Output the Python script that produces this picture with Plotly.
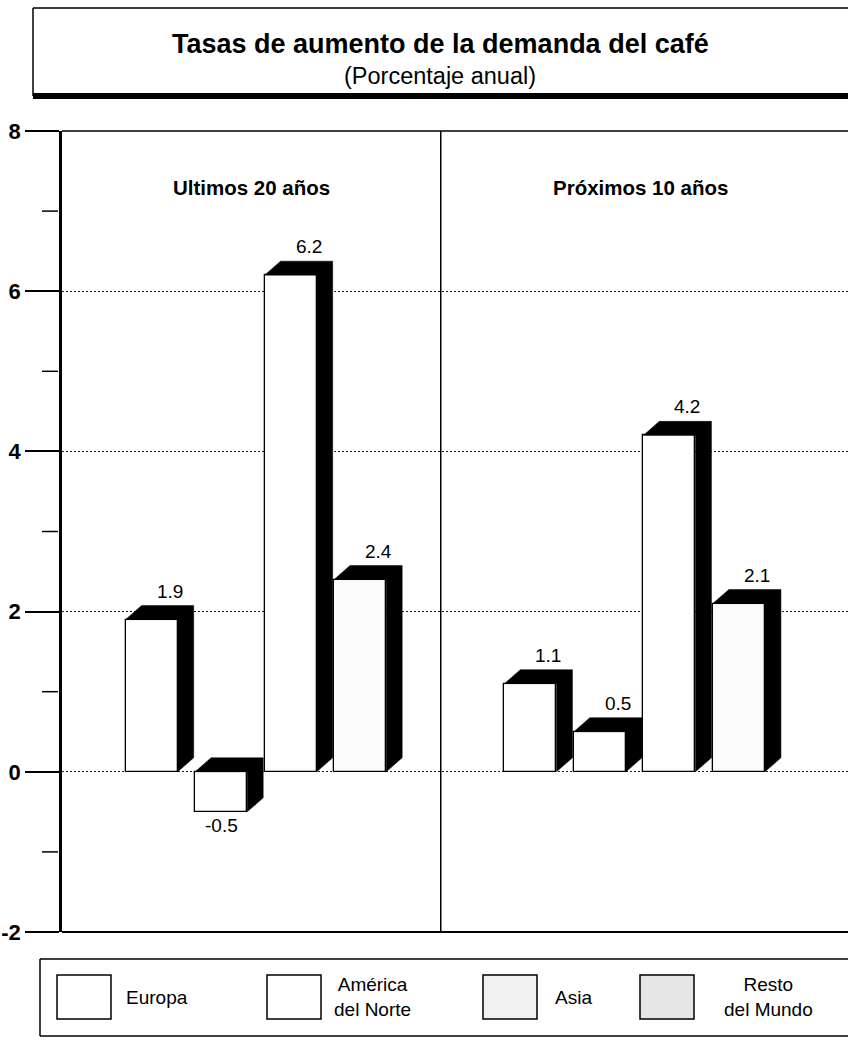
import plotly.graph_objects as go

# ---- data -------------------------------------------------------------
periods = ["Ultimos 20 años", "Próximos 10 años"]
regions = ["Europa", "América del Norte", "Asia", "Resto del Mundo"]
legend_text = ["Europa", "América<br>del Norte", "Asia", "Resto<br>del Mundo"]

europa = [1.9, 1.1]
america_norte = [-0.5, 0.5]
asia = [6.2, 4.2]
resto_mundo = [2.4, 2.1]
series = [europa, america_norte, asia, resto_mundo]

y_ticks = [-2, 0, 2, 4, 6, 8]
y_minor = [-1, 1, 3, 5, 7]

# ---- styling / geometry ----------------------------------------------
FONT = "Liberation Sans, Arial, Helvetica, sans-serif"
front_fill = ["#ffffff", "#ffffff", "#fefefe", "#fcfcfc"]
swatch_fill = ["#ffffff", "#ffffff", "#f1f1f1", "#e6e6e6"]

PANEL_W = 5.45      # width of each period panel in x units
FIRST = 1.29        # centre of the first bar inside a panel
BAR_W = 0.75
DEPTH_X = 0.23      # 3-D depth, x units
DEPTH_Y = 0.175     # 3-D depth, y units
LABEL_DX = 0.26     # value labels sit over the top face
X_MAX = 11.31

W, H = 848, 1041
L, R, T, B = 62, 0, 131, 109
PW, PH = W - L - R, H - T - B


def px(xp):
    return (xp - L) / PW


def py(yp):
    return (H - B - yp) / PH


fig = go.Figure()

# front faces of the bars
for j, (name, vals) in enumerate(zip(regions, series)):
    xs = [p * PANEL_W + FIRST + j for p in range(len(periods))]
    fig.add_trace(go.Bar(
        x=xs, y=vals, width=BAR_W, name=name,
        marker=dict(color=front_fill[j], line=dict(color="black", width=1.3)),
        showlegend=False, hoverinfo="skip",
    ))

# black top and side faces
for j, vals in enumerate(series):
    px_list, py_list = [], []
    for p, v in enumerate(vals):
        c = p * PANEL_W + FIRST + j
        x0, x1 = c - BAR_W / 2, c + BAR_W / 2
        top, bot = max(v, 0), min(v, 0)
        px_list += [x0, x0 + DEPTH_X, x1 + DEPTH_X, x1 + DEPTH_X, x1, x1, x0, None]
        py_list += [top, top + DEPTH_Y, top + DEPTH_Y, bot + DEPTH_Y, bot, top, top, None]
    fig.add_trace(go.Scatter(
        x=px_list, y=py_list, mode="lines", fill="toself",
        fillcolor="black", line=dict(color="black", width=0.5),
        showlegend=False, hoverinfo="skip",
    ))

# value labels
for j, vals in enumerate(series):
    for p, v in enumerate(vals):
        c = p * PANEL_W + FIRST + j
        if v >= 0:
            fig.add_annotation(x=c + LABEL_DX, y=v + DEPTH_Y, text=f"{v:.1f}",
                               xanchor="center", yanchor="bottom", yshift=2,
                               showarrow=False,
                               font=dict(size=19, color="black", family=FONT))
        else:
            fig.add_annotation(x=c, y=v, text=f"{v:.1f}", xanchor="center",
                               yanchor="top", yshift=-1, showarrow=False,
                               font=dict(size=19, color="black", family=FONT))


def paper_text(x, y, text, size, xanchor="center"):
    fig.add_annotation(x=px(x), y=py(y), xref="paper", yref="paper", text=text,
                       xanchor=xanchor, yanchor="middle", align="center",
                       showarrow=False,
                       font=dict(size=size, color="black", family=FONT))


# panel headings
for p, label in enumerate(periods):
    paper_text([251, 640][p], 188, f"<b>{label}</b>", 20.5)

shapes = []
# frame: top, bottom, panel divider
shapes.append(dict(type="line", xref="x domain", yref="y domain", x0=0, x1=1.02,
                   y0=1, y1=1, line=dict(color="black", width=1.5)))
shapes.append(dict(type="line", xref="x domain", yref="y domain", x0=0, x1=1.02,
                   y0=0, y1=0, line=dict(color="black", width=2)))
shapes.append(dict(type="line", xref="x", yref="y domain", x0=PANEL_W, x1=PANEL_W,
                   y0=0, y1=1, line=dict(color="black", width=1.5)))
# detached minor ticks
for m in y_minor:
    shapes.append(dict(type="line", xref="x domain", yref="y",
                       x0=(42 - L) / PW, x1=(58 - L) / PW, y0=m, y1=m,
                       line=dict(color="black", width=1.5)))

# title box
shapes.append(dict(type="line", xref="paper", yref="paper", x0=px(33), x1=px(850),
                   y0=py(8), y1=py(8), line=dict(color="black", width=1.5)))
shapes.append(dict(type="line", xref="paper", yref="paper", x0=px(33), x1=px(33),
                   y0=py(8), y1=py(96), line=dict(color="black", width=1.5)))
shapes.append(dict(type="rect", xref="paper", yref="paper", x0=px(33), x1=px(852),
                   y0=py(99), y1=py(93), fillcolor="black", line=dict(width=0)))

# legend box
LEG_TOP, LEG_BOT = 959, 1036
shapes.append(dict(type="line", xref="paper", yref="paper", x0=px(40), x1=px(850),
                   y0=py(LEG_TOP), y1=py(LEG_TOP), line=dict(color="black", width=1.5)))
shapes.append(dict(type="line", xref="paper", yref="paper", x0=px(40), x1=px(850),
                   y0=py(LEG_BOT), y1=py(LEG_BOT), line=dict(color="black", width=1.5)))
shapes.append(dict(type="line", xref="paper", yref="paper", x0=px(40), x1=px(40),
                   y0=py(LEG_TOP), y1=py(LEG_BOT), line=dict(color="black", width=1.5)))

swatch_x = [57, 267, 483, 640]
text_x = [124, 372, 553, 768]
text_anchor = ["left", "center", "left", "center"]
for j in range(len(regions)):
    shapes.append(dict(type="rect", xref="paper", yref="paper",
                       x0=px(swatch_x[j]), x1=px(swatch_x[j] + 54),
                       y0=py(1019), y1=py(975), fillcolor=swatch_fill[j],
                       line=dict(color="black", width=1.5)))
    paper_text(text_x[j], 997, legend_text[j], 19, xanchor=text_anchor[j])

paper_text(440, 44, "<b>Tasas de aumento de la demanda del café</b>", 27)
paper_text(440, 76, "(Porcentaje anual)", 23.5)

fig.update_layout(
    width=W, height=H,
    margin=dict(l=L, r=R, t=T, b=B, pad=0),
    paper_bgcolor="white", plot_bgcolor="white",
    barmode="overlay", bargap=0,
    shapes=shapes, showlegend=False,
    font=dict(family=FONT, color="black"),
)
fig.update_xaxes(range=[0, X_MAX], showgrid=False, zeroline=False, showline=False,
                 showticklabels=False, ticks="", fixedrange=True)
fig.update_yaxes(range=[-2, 8], tickvals=y_ticks,
                 ticktext=[f"<b>{t}</b>" for t in y_ticks],
                 ticks="outside", ticklen=34, tickwidth=1.5, tickcolor="black",
                 tickfont=dict(size=22, color="black", family=FONT),
                 showline=True, linewidth=2.5, linecolor="black",
                 showgrid=True, gridcolor="#222222", griddash="2px,2px", gridwidth=1,
                 zeroline=False, fixedrange=True)

fig.write_html("out.html")
